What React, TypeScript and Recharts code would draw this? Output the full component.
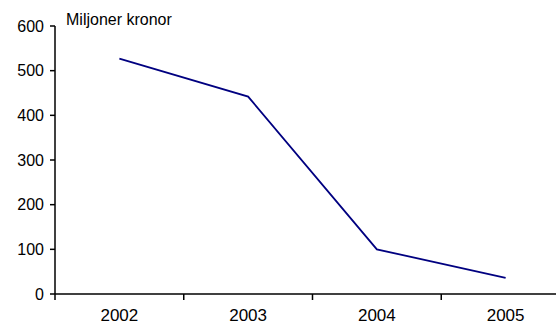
import { Line, LineChart, XAxis, YAxis } from "recharts";

const years = [2002, 2003, 2004, 2005];
const values = [527, 442, 100, 36];
const yTicks = [0, 100, 200, 300, 400, 500, 600];
// category boundaries, where Excel-style tick marks sit (the last one falls off the picture)
const bounds = [2001.5, 2002.5, 2003.5, 2004.5];

const rows = years.map((year, i) => ({ year, value: values[i] }));

const font = "'Liberation Sans', Arial, sans-serif";

export default function App() {
  return (
    <div style={{ position: "fixed", left: 0, top: 0, width: 556, height: 324, overflow: "hidden", background: "#fff" }}>
      <div style={{ position: "absolute", left: 66, top: 11, fontSize: 16, fontFamily: font, color: "#000" }}>
        Miljoner kronor
      </div>
      <LineChart width={580} height={324} data={rows} margin={{ top: 26, right: 10, bottom: 0, left: 0 }}>
        {/* axis line + tick marks between the years */}
        <XAxis
          dataKey="year"
          type="number"
          domain={[2001.5, 2005.5]}
          ticks={bounds}
          height={1}
          tick={() => <g />}
          tickSize={6}
          stroke="#000"
          strokeWidth={1.5}
        />
        {/* year labels only */}
        <XAxis
          xAxisId="labels"
          dataKey="year"
          type="number"
          domain={[2001.5, 2005.5]}
          ticks={years}
          height={29}
          axisLine={false}
          tickLine={false}
          tick={{ fontSize: 17, fill: "#000", fontFamily: font }}
          tickMargin={8}
        />
        <YAxis
          domain={[0, 600]}
          ticks={yTicks}
          width={55}
          tick={{ fontSize: 16, fill: "#000", fontFamily: font }}
          tickSize={5}
          tickMargin={6}
          stroke="#000"
          strokeWidth={1.5}
        />
        <Line
          dataKey="value"
          stroke="#000080"
          strokeWidth={1.8}
          dot={false}
          isAnimationActive={false}
        />
      </LineChart>
    </div>
  );
}
